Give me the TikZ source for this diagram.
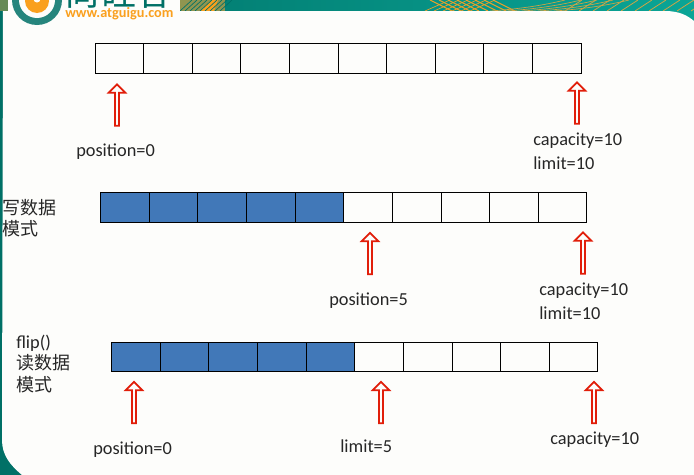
\documentclass[tikz,border=0pt]{standalone}
\usepackage{fontspec}
\setmainfont{Carlito}
\newfontfamily\cjk{Noto Sans CJK SC}
\usepackage{tikz}
\usetikzlibrary{shapes.arrows}
\definecolor{bandteal}{RGB}{0,112,102}
\definecolor{bandlight}{RGB}{10,165,150}
\definecolor{bandgold}{RGB}{205,165,70}
\definecolor{panelwhite}{RGB}{253,253,251}
\definecolor{cellblue}{RGB}{65,120,184}
\definecolor{logoorange}{RGB}{250,160,30}
\definecolor{arrowred}{RGB}{225,30,10}
\tikzset{
  cell/.style={draw=black,line width=0.75pt,minimum width=36.45pt,minimum height=22pt,inner sep=0pt,outer sep=0pt},
  fullcell/.style={cell,fill=cellblue},
  markarrow/.style={single arrow,draw=arrowred,line width=1.3pt,fill=panelwhite,shape border rotate=90,
    minimum height=31pt,minimum width=12.5pt,single arrow head extend=2.2pt,inner sep=0pt,outer sep=0pt},
  lbl/.style={anchor=west,inner sep=0pt,font=\fontsize{13.75}{16}\selectfont,text=black!85},
  cjklbl/.style={lbl,font=\cjk\fontsize{13.5}{16}\selectfont},
}
\begin{document}
\begin{tikzpicture}[x=0.75pt,y=0.75pt,yscale=-1,xscale=1]
  \useasboundingbox (0,0) rectangle (694,475);

  %Background band and panel
  \shade [left color=bandteal,middle color=bandteal,right color=bandlight] (0,0) rectangle (694,475);
  \begin{scope}
    \clip (0,0) rectangle (694,12);
    \fill [bandgold!70!bandteal] (180,0) rectangle (225,11);
    \fill [logoorange] (200,11) -- (212,0) -- (218,0) -- (214,11) -- cycle;
    \foreach \i in {0,5,...,40} {
      \draw [bandteal,line width=0.5pt] (180+\i,11) -- (192+\i,0);
    }
    \foreach \i in {0,9,...,63} {
      \draw [logoorange!80!bandgold,line width=0.7pt] (430+\i,0) -- (452+\i,11);
    }
    \foreach \i in {0,9,...,45} {
      \draw [logoorange!80!bandgold,line width=0.5pt] (495-\i,0) -- (470-\i,11);
    }
    \foreach \i in {0,16,...,64} {
      \draw [bandgold,line width=0.5pt] (490+\i,11) .. controls (520+\i,9) and (545+\i,5) .. (565+\i,0);
    }
    \foreach \i in {0,14,...,126} {
      \draw [bandgold,line width=0.6pt] (565+\i,11) -- (582+\i,0);
    }
  \end{scope}
  \fill [panelwhite] (3,11) -- (665,11) .. controls (680,11) and (688,16) .. (694,21) -- (694,475)
    -- (22,475) .. controls (10,465) and (2,455) .. (2,440) -- cycle;

  %Logo
  \fill [bandgold!50!bandteal] (0,0) rectangle (10,11);
  \fill [panelwhite] (8,0) rectangle (180,19);
  \fill [bandteal!85] (37,0) circle (25);
  \fill [panelwhite] (37,0) circle (18);
  \fill [logoorange] (37,1) circle (12);
  \fill [panelwhite] (37,-1) circle (3.5);
  \begin{scope}
    \clip (0,0) rectangle (694,475);
    \node (logotext) [anchor=base west,inner sep=0pt,text=bandteal,font=\cjk\fontsize{27}{27}\selectfont] at (64,5) {尚硅谷};
  \end{scope}
  \node (logourl) [anchor=west,inner sep=0pt,text=logoorange,font=\bfseries\fontsize{10.7}{12}\selectfont] at (65,13.5) {www.atguigu.com};

  %Buffers
  \foreach \i in {1,...,10} {
    \node (cellA\i) [cell] at ({95+48.6*(\i-0.5)},58.5) {};
  }
  \foreach \i in {1,...,5} {
    \node (cellB\i) [fullcell] at ({100.5+48.65*(\i-0.5)},207.5) {};
    \node (cellC\i) [fullcell] at ({111.5+48.65*(\i-0.5)},357) {};
  }
  \foreach \i in {6,...,10} {
    \node (cellB\i) [cell] at ({100.5+48.65*(\i-0.5)},207.5) {};
    \node (cellC\i) [cell] at ({111.5+48.65*(\i-0.5)},357) {};
  }

  %Arrows
  \node (posA) [markarrow] at (117,106) {};
  \node (capA) [markarrow] at (577,104) {};
  \node (posB) [markarrow] at (370,254.5) {};
  \node (capB) [markarrow] at (583,254) {};
  \node (posC) [markarrow] at (134,403.5) {};
  \node (limC) [markarrow] at (381,403.5) {};
  \node (capC) [markarrow] at (594,403.5) {};

  % Text Node
  \node (posAtext) [lbl] at (76,152) {position=0};
  \node (capAtext) [lbl] at (533,141) {capacity=10};
  \node (limAtext) [lbl] at (533,163) {limit=10};
  % Text Node
  \node (writeA) [cjklbl] at (2,208) {写数据};
  \node (writeB) [cjklbl] at (2,229) {模式};
  \node (posBtext) [lbl] at (329,301) {position=5};
  \node (capBtext) [lbl] at (539,291) {capacity=10};
  \node (limBtext) [lbl] at (539,313) {limit=10};
  % Text Node
  \node (flipA) [lbl] at (16,343) {flip()};
  \node (readA) [cjklbl] at (16,363) {读数据};
  \node (readB) [cjklbl] at (16,385) {模式};
  \node (posCtext) [lbl] at (93,450) {position=0};
  \node (limCtext) [lbl] at (340,446) {limit=5};
  \node (capCtext) [lbl] at (550,440) {capacity=10};
\end{tikzpicture}
\end{document}
